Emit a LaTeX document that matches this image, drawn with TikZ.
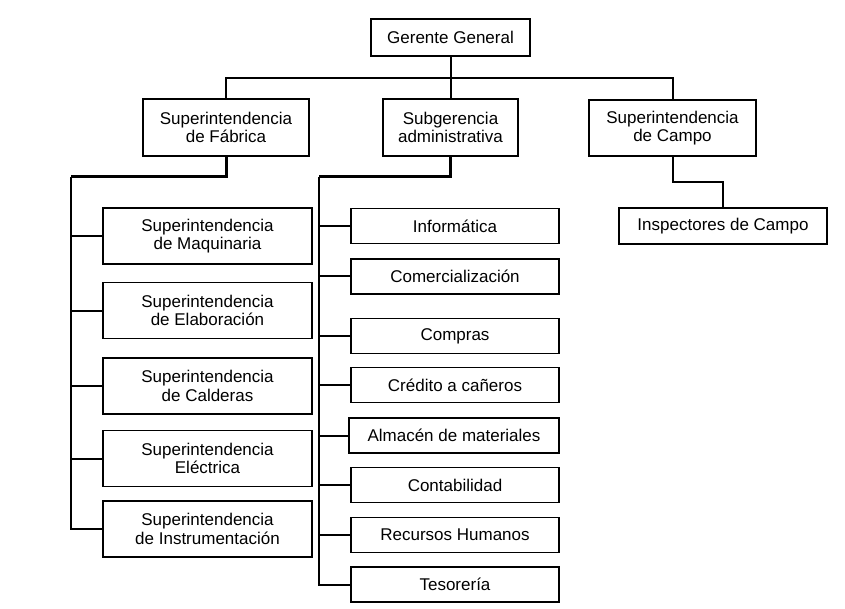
\documentclass[tikz,border=0pt]{standalone}
\usepackage{fontspec}
\setmainfont{Liberation Sans}
\begin{document}
\begin{tikzpicture}[x=1pt,y=-1pt,
  box/.style={draw=black,line width=1.8pt,fill=white,inner sep=0pt,outer sep=0pt,align=center,
    font=\fontsize{17}{18.5}\selectfont},
  lbox/.style={box,minimum width=209,minimum height=56},
  rbox/.style={box,minimum width=208,minimum height=35},
  conn/.style={line width=2pt},
  heavy/.style={line width=3pt}]
\path[fill=white] (0,0) rectangle (845,609);
\useasboundingbox (0,0) rectangle (845,609);
% top levels
\node[box,minimum width=159,minimum height=37] (g) at (450.5,37.5) {Gerente General};
\node[box,minimum width=166,minimum height=57] (fab) at (226,127.5) {Superintendencia\\de Fábrica};
\node[box,minimum width=135,minimum height=57] (sub) at (450.5,127.5) {Subgerencia\\administrativa};
\node[box,minimum width=167,minimum height=56] (cam) at (672.5,128) {Superintendencia\\de Campo};
\node[box,minimum width=208,minimum height=36] (ins) at (723,226) {Inspectores de Campo};
% left column
\node[lbox] (maq) at (207.5,236) {Superintendencia\\de Maquinaria};
\node[lbox] (ela) at (207.5,310.5) {Superintendencia\\de Elaboración};
\node[lbox] (cal) at (207.5,386) {Superintendencia\\de Calderas};
\node[lbox] (ele) at (207.5,458.5) {Superintendencia\\Eléctrica};
\node[lbox] (inst) at (207.5,529) {Superintendencia\\de Instrumentación};
% right column
\node[rbox] (inf) at (455,226) {Informática};
\node[rbox] (com) at (455,276.5) {Comercialización};
\node[rbox] (cpr) at (455,336) {Compras};
\node[rbox] (cre) at (455,385) {Crédito a cañeros};
\node[rbox,minimum width=210] (alm) at (454,435.5) {Almacén de materiales};
\node[rbox] (con) at (455,485) {Contabilidad};
\node[rbox] (rh) at (455,535) {Recursos Humanos};
\node[rbox] (tes) at (455,584.5) {Tesorería};
% coordinates of the buses
\coordinate (lt) at (71,177);
\coordinate (rt) at (319,177);
% top connectors
\draw[conn] (g.south) -- (sub.north);
\draw[conn] (fab.north) -- ++(0,-21) -| (cam.north);
\draw[conn] (cam.south) -- ++(0,26) -| (ins.north);
% Fabrica branch
\draw[heavy] (fab.south) |- (lt);
\draw[conn] (lt) |- (inst.west);
\foreach \n in {maq,ela,cal,ele}{\draw[conn] (\n.west) -- (\n.west -| lt);}
% Subgerencia branch
\draw[heavy] (sub.south) |- (rt);
\draw[conn] (rt) |- (tes.west);
\foreach \n in {inf,com,cpr,cre,alm,con,rh}{\draw[conn] (\n.west) -- (\n.west -| rt);}
\end{tikzpicture}
\end{document}
